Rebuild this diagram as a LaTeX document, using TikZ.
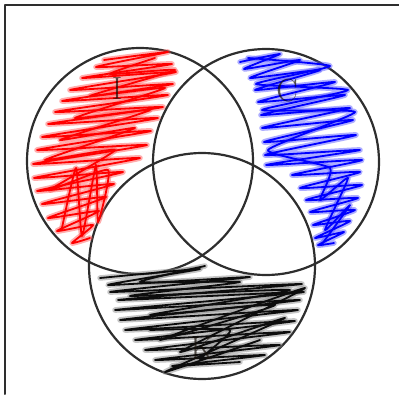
\documentclass[tikz,border=0pt]{standalone}
\usetikzlibrary{positioning}
\begin{document}
\begin{tikzpicture}[x=1pt,y=-1pt,line join=round,line cap=round]
	\definecolor{rim}{rgb}{0.18, 0.18, 0.18}
	\definecolor{scribred}{rgb}{1.0, 0.0, 0.0}
	\definecolor{scribblue}{rgb}{0.0, 0.0, 1.0}
	\definecolor{scribblack}{rgb}{0.05, 0.05, 0.05}
	\useasboundingbox (0,0) rectangle (399,394);
	
	\def\R{113}
	\path
	(140,161) coordinate (I)
	(266,162) coordinate (C)
	(202,266) coordinate (K);
	
	\tikzset{
		halo/.style={line width=5.5pt,opacity=.45},
		core/.style={line width=1.8pt},
		letter/.style={font=\fontsize{32}{34}\selectfont,text=black!90!brown,text opacity=.7}
	}
	
	% frame (only top and left show)
	\draw[rim,line width=2pt] (5,394)--(5,5)--(399,5);
	
	% the three sets
	\foreach \c in {I,C,K}{
		\draw[rim,line width=2.2pt] (\c) circle (\R);
	}
	
	% scribbles
	\def\Sred{(104,60) (168,52) (96,67) (172,64) (82,78) (176,72) (70,90) (173,84)
		(62,101) (168,95) (55,112) (163,107) (48,124) (158,118) (42,137) (151,131)
		(37,150) (147,145) (33,164) (140,158) (34,178) (123,172) (37,191) (114,184)
		(42,204) (106,197) (48,218) (99,211) (57,231) (93,225) (72,243) (90,238)}
	\def\Sredb{(62,228) (76,168) (82,236) (96,165) (98,222) (108,170) (50,190)
		(115,150) (45,160) (135,128) (60,140) (150,110) (75,118) (165,88) (90,96)
		(175,70) (110,74) (155,58)}
	\def\Sblue{(240,62) (280,54) (244,69) (300,60) (250,78) (320,70) (255,90) (335,82)
		(258,102) (345,95) (261,115) (350,108) (262,128) (353,120) (264,142) (356,135)
		(265,155) (360,150) (266,165) (362,160) (292,175) (360,172) (300,188) (362,185)
		(306,200) (358,198) (310,212) (355,210) (313,225) (350,221) (315,238) (344,232)
		(318,245) (334,243)}
	\def\Sblueb{(248,58) (330,66) (256,84) (348,90) (262,110) (355,112) (268,150)
		(330,168) (320,200) (348,178) (325,230) (350,205) (322,244)}
	\def\Sblack{(100,278) (200,269) (108,285) (250,277) (110,292) (302,284) (118,300)
		(304,292) (115,310) (300,300) (120,320) (298,310) (125,330) (295,321)
		(135,340) (290,332) (145,350) (280,345) (155,360) (265,355) (172,366) (240,362)}
	\def\Sblackb{(205,266) (140,282) (240,282) (130,296) (290,290) (150,315)
		(275,305) (160,340) (305,288) (180,352) (285,318) (165,372) (260,340)
		(200,360) (230,330) (150,330)}
	
	\draw[scribred!70,halo] plot[smooth,tension=.3] coordinates {\Sred};
	\draw[scribred!70,halo] plot[smooth,tension=.3] coordinates {\Sredb};
	\draw[scribred,core] plot[smooth,tension=.3] coordinates {\Sred};
	\draw[scribred,core] plot[smooth,tension=.3] coordinates {\Sredb};
	
	\draw[scribblue!70,halo] plot[smooth,tension=.3] coordinates {\Sblue};
	\draw[scribblue!70,halo] plot[smooth,tension=.3] coordinates {\Sblueb};
	\draw[scribblue,core] plot[smooth,tension=.3] coordinates {\Sblue};
	\draw[scribblue,core] plot[smooth,tension=.3] coordinates {\Sblueb};
	
	\draw[gray,halo] plot[smooth,tension=.3] coordinates {\Sblack};
	\draw[gray,halo] plot[smooth,tension=.3] coordinates {\Sblackb};
	\draw[scribblack,core] plot[smooth,tension=.3] coordinates {\Sblack};
	\draw[scribblack,core] plot[smooth,tension=.3] coordinates {\Sblackb};
	
	% labels, half hidden by the scribbles
	\node[letter] (lI) at (117,89) {I};
	\node[letter] (lC) at (287,91) {C};
	\node[letter] (lK) at (202,349) {K};
\end{tikzpicture}
\end{document}
